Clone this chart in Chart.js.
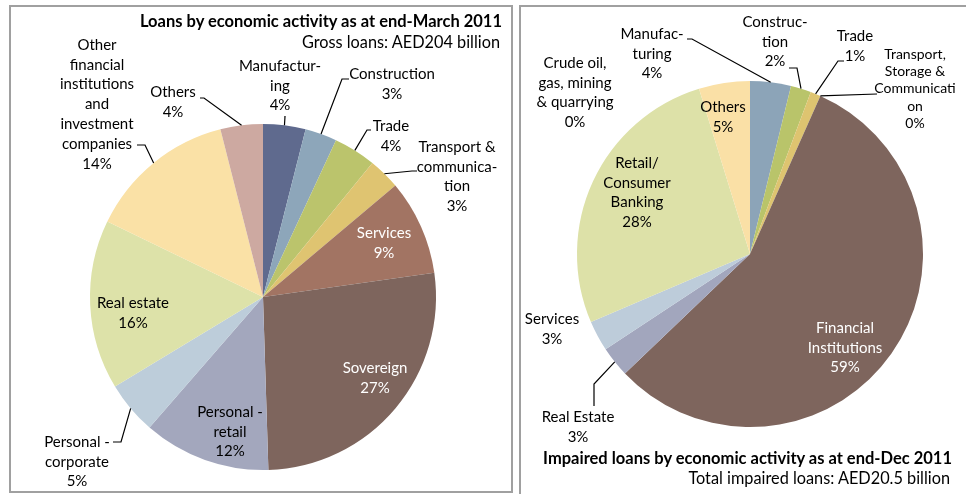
<!DOCTYPE html>
<html lang="en">
<head>
  <meta charset="UTF-8">
  <title>UAE bank loans by economic activity</title>
  <script src="https://cdn.jsdelivr.net/npm/chart.js"></script>
  <style>
    body {
      margin: 0;
      font-family: Lato, "Open Sans", sans-serif;
      background: #fff;
    }
    #page {
      position: relative;
      width: 966px;
      height: 494px;
      overflow: hidden;
    }
    .frame {
      position: absolute;
      box-sizing: border-box;
      border: 2px solid #a0a0a0;
    }
    #frameLeft { left: 9px; top: 5px; width: 504px; height: 488px; }
    #frameRight { left: 519px; top: 5px; width: 447px; height: 520px; border-right: none; border-bottom: none; }
    canvas {
      position: absolute;
      left: 0;
      top: 0;
    }
    .title {
      position: absolute;
      white-space: nowrap;
      text-align: right;
      font-size: 16.3px;
      line-height: 20px;
      color: #000;
    }
    .title b { font-weight: bold; font-size: 16.5px; }
  </style>
</head>
<body>
  <div id="page">
    <div class="frame" id="frameLeft"></div>
    <div class="frame" id="frameRight"></div>
    <canvas id="loansChart" width="966" height="494"></canvas>
    <canvas id="impairedChart" width="966" height="494"></canvas>
    <div class="title" style="right:464px; top:11px;"><b>Loans by economic activity as at end-March 2011</b></div>
    <div class="title" style="right:466px; top:32px;">Gross loans: AED204 billion</div>
    <div class="title" style="right:14px; top:448px;"><b>Impaired loans by economic activity as at end-Dec 2011</b></div>
    <div class="title" style="right:16px; top:468px;">Total impaired loans: AED20.5 billion</div>
  </div>

  <script>
    // Loans by economic activity, end-March 2011 (% of gross loans)
    const loanSectors = [
      'Manufactur-\ning', 'Construction', 'Trade', 'Transport &\ncommunica-\ntion', 'Services',
      'Sovereign', 'Personal -\nretail', 'Personal -\ncorporate', 'Real estate',
      'Other\nfinancial\ninstitutions\nand\ninvestment\ncompanies', 'Others'
    ];
    const loanShares = [4, 3, 4, 3, 9, 27, 12, 5, 16, 14, 4];
    const loanColors = [
      '#5f6a8e', '#8da6ba', '#bbc46c', '#dfc471', '#a27463',
      '#7e655d', '#a3a7bd', '#bdcdda', '#dde2a9', '#fae1a6', '#cda9a1'
    ];

    // Impaired loans by economic activity, end-Dec 2011 (% of impaired loans)
    const impairedSectors = [
      'Manufac-\nturing', 'Construc-\ntion', 'Trade', 'Transport,\nStorage &\nCommunicati\non',
      'Financial\nInstitutions', 'Real Estate', 'Services', 'Retail/\nConsumer\nBanking',
      'Crude oil,\ngas, mining\n& quarrying', 'Others'
    ];
    const impairedShares = [4, 2, 1, 0, 59, 3, 3, 28, 0, 5];
    const impairedColors = [
      '#8ca4b8', '#b9c46a', '#dec470', '#e6cf8c', '#7e655d',
      '#a2a6bd', '#bdccda', '#dde1a8', '#c9b38a', '#fae0a6'
    ];

    // where each slice label sits (page px) and the elbow of its leader line
    const loanPlacement = [
      { x: 280, y: 66, leader: [[285, 116]] },
      { x: 392, y: 74, leader: [[349, 79], [342, 79]] },
      { x: 391, y: 126, leader: [[371, 130], [367, 130]] },
      { x: 457, y: 147, leader: [[417, 171], [412, 171]] },
      { x: 384, y: 233, color: '#fff' },
      { x: 375, y: 368, color: '#fff' },
      { x: 230, y: 412 },
      { x: 77, y: 442, leader: [[113, 442], [121, 442]] },
      { x: 133, y: 303 },
      { x: 97, y: 45, leader: [[137, 145], [145, 145]] },
      { x: 173, y: 92, leader: [[200, 98], [204, 98]] }
    ];
    const impairedPlacement = [
      { x: 652, y: 34, leader: [[687, 39], [692, 39]] },
      { x: 775, y: 22, leader: [[789, 68], [797, 68]] },
      { x: 855, y: 36, leader: [[844, 61], [838, 61]] },
      { x: 915, y: 54, size: 14, lineHeight: 17.4, leader: [[877, 94]] },
      { x: 845, y: 328, color: '#fff' },
      { x: 578, y: 417, leader: [[594, 406], [594, 384]] },
      { x: 552, y: 319 },
      { x: 637, y: 163 },
      { x: 575, y: 63 },
      { x: 723, y: 107 }
    ];

    // Draws the category name plus its share next to each slice,
    // with a leader line to the middle of the slice's outer edge
    const sliceLabels = {
      id: 'sliceLabels',
      afterDatasetsDraw(chart, args, opts) {
        const ctx = chart.ctx;
        const meta = chart.getDatasetMeta(0);
        const values = chart.data.datasets[0].data;
        ctx.save();
        ctx.textAlign = 'center';
        ctx.textBaseline = 'middle';
        opts.place.forEach((p, i) => {
          const lines = chart.data.labels[i].split('\n').concat(values[i] + '%');
          const lh = p.lineHeight || 19.8;
          ctx.font = (p.size || 15) + 'px Lato, "Open Sans", sans-serif';
          ctx.fillStyle = p.color || '#000';
          lines.forEach((t, k) => ctx.fillText(t, p.x, p.y + k * lh));
          if (p.leader) {
            const arc = meta.data[i];
            const mid = (arc.startAngle + arc.endAngle) / 2;
            ctx.beginPath();
            ctx.moveTo(p.leader[0][0], p.leader[0][1]);
            p.leader.slice(1).forEach(pt => ctx.lineTo(pt[0], pt[1]));
            ctx.lineTo(arc.x + Math.cos(mid) * arc.outerRadius, arc.y + Math.sin(mid) * arc.outerRadius);
            ctx.strokeStyle = '#000';
            ctx.lineWidth = 1.2;
            ctx.stroke();
          }
        });
        ctx.restore();
      }
    };

    function createPie(id, labels, data, colors, padding, place) {
      return new Chart(document.getElementById(id), {
        type: 'pie',
        data: {
          labels: labels,
          datasets: [{ data: data, backgroundColor: colors, borderWidth: 0 }]
        },
        options: {
          responsive: false,
          animation: false,
          layout: { padding: padding },
          plugins: {
            legend: { display: false },
            tooltip: { enabled: false },
            sliceLabels: { place: place }
          }
        },
        plugins: [sliceLabels]
      });
    }

    createPie('loansChart', loanSectors, loanShares, loanColors,
      { left: 90, right: 530, top: 124, bottom: 24 }, loanPlacement);
    createPie('impairedChart', impairedSectors, impairedShares, impairedColors,
      { left: 577, right: 43, top: 81, bottom: 67 }, impairedPlacement);
  </script>
</body>
</html>
